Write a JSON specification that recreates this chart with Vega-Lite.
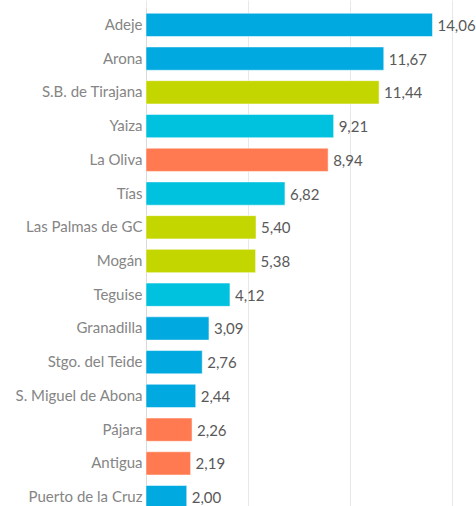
{
  "$schema": "https://vega.github.io/schema/vega-lite/v6.json",
  "autosize": {"type": "none"},
  "padding": {"left": 146, "top": 8, "right": 0, "bottom": 0},
  "width": 330,
  "height": 498,
  "background": "white",
  "config": {
    "locale": {"number": {"decimal": ",", "thousands": ".", "grouping": [3], "currency": ["", " €"]}},
    "view": {"stroke": null}
  },
  "data": {
    "values": [
      {"municipio": "Adeje", "valor": 14.06, "isla": "Tenerife"},
      {"municipio": "Arona", "valor": 11.67, "isla": "Tenerife"},
      {"municipio": "S.B. de Tirajana", "valor": 11.44, "isla": "Gran Canaria"},
      {"municipio": "Yaiza", "valor": 9.21, "isla": "Lanzarote"},
      {"municipio": "La Oliva", "valor": 8.94, "isla": "Fuerteventura"},
      {"municipio": "Tías", "valor": 6.82, "isla": "Lanzarote"},
      {"municipio": "Las Palmas de GC", "valor": 5.40, "isla": "Gran Canaria"},
      {"municipio": "Mogán", "valor": 5.38, "isla": "Gran Canaria"},
      {"municipio": "Teguise", "valor": 4.12, "isla": "Lanzarote"},
      {"municipio": "Granadilla", "valor": 3.09, "isla": "Tenerife"},
      {"municipio": "Stgo. del Teide", "valor": 2.76, "isla": "Tenerife"},
      {"municipio": "S. Miguel de Abona", "valor": 2.44, "isla": "Tenerife"},
      {"municipio": "Pájara", "valor": 2.26, "isla": "Fuerteventura"},
      {"municipio": "Antigua", "valor": 2.19, "isla": "Fuerteventura"},
      {"municipio": "Puerto de la Cruz", "valor": 2.00, "isla": "Tenerife"}
    ]
  },
  "encoding": {
    "y": {
      "field": "municipio", "type": "nominal", "sort": null,
      "scale": {"range": [0, 506], "paddingInner": 0.31, "paddingOuter": 0.155},
      "axis": {
        "title": null, "ticks": false, "labelPadding": 4, "labelFont": "Lato", "labelFontSize": 15,
        "labelColor": "#858585", "domain": true, "domainColor": "#d9d9d9", "grid": false
      }
    },
    "x": {
      "field": "valor", "type": "quantitative",
      "scale": {"domain": [0, 16], "range": [0, 326]},
      "axis": {
        "title": null, "values": [0, 5, 10, 15], "labels": false, "ticks": false, "domain": false,
        "grid": true, "gridColor": "#e8e8e8", "gridWidth": 1
      }
    }
  },
  "layer": [
    {
      "mark": {"type": "bar", "stroke": "white", "strokeOpacity": 0.5, "strokeWidth": 1},
      "encoding": {
        "color": {
          "field": "isla", "type": "nominal", "legend": null,
          "scale": {
            "domain": ["Tenerife", "Gran Canaria", "Lanzarote", "Fuerteventura"],
            "range": ["#00A9E0", "#C4D600", "#00C1DE", "#FF7A50"]
          }
        }
      }
    },
    {
      "mark": {"type": "text", "align": "left", "dx": 5, "dy": 1, "font": "Lato", "fontSize": 15, "color": "#595959"},
      "encoding": {
        "text": {"field": "valor", "type": "quantitative", "format": ".2f"}
      }
    }
  ]
}
